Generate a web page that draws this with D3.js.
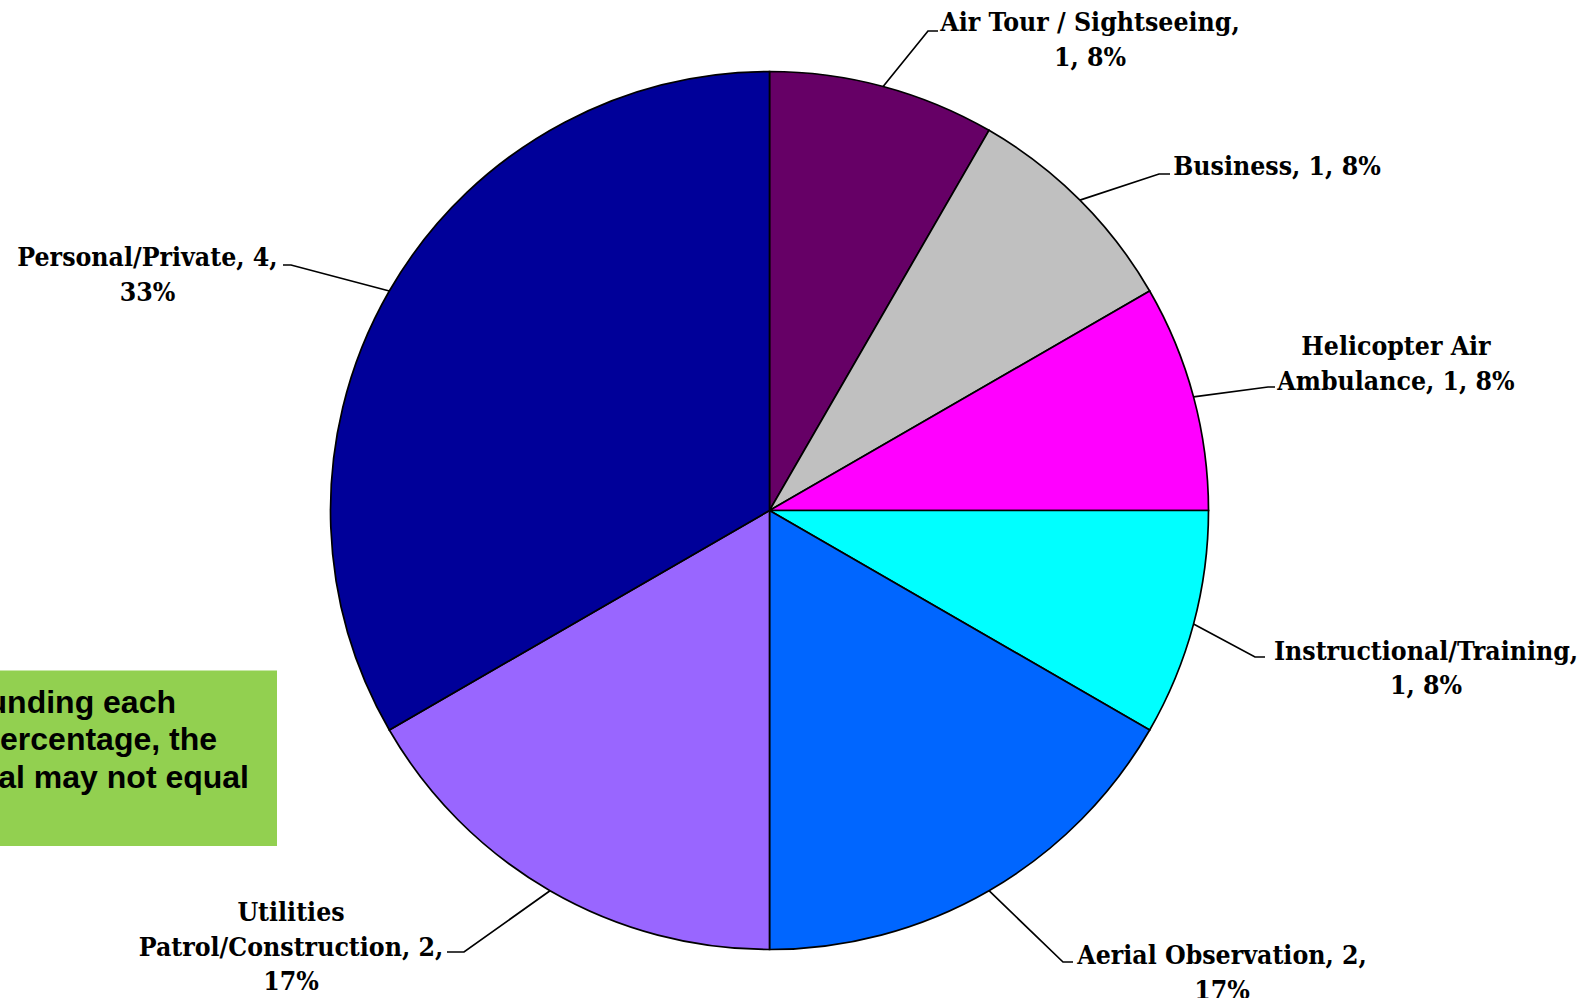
<!DOCTYPE html>
<html>
<head>
<meta charset="utf-8">
<script src="https://cdn.jsdelivr.net/npm/d3@7/dist/d3.min.js"></script>
<style>
  html, body { margin: 0; padding: 0; background: #fff; overflow: hidden; }
  .lbl { font-family: "DejaVu Serif Condensed", "DejaVu Serif", serif; font-stretch: condensed; font-weight: bold; font-size: 26.4px; fill: #000; }
  .note { font-family: "Liberation Sans", Arial, sans-serif; font-weight: bold; font-size: 32px; fill: #000; }
</style>
</head>
<body>
<div class="chart"></div>
<script>
// operation types, clockwise from 12 o'clock
var categories = ["Air Tour / Sightseeing", "Business", "Helicopter Air Ambulance", "Instructional/Training",
                  "Aerial Observation", "Utilities Patrol/Construction", "Personal/Private"];
var counts = [1, 1, 1, 1, 2, 2, 4];
var colors = ["#660066", "#C0C0C0", "#FF00FF", "#00FFFF", "#0066FF", "#9966FF", "#000099"];
// how many words go on each label line
var wordsPerLine = [[4, 2], [3], [2, 3], [1, 2], [3, 1], [1, 2, 1], [2, 1]];
var noteLines = ["Due to rounding each", "percentage, the", "total may not equal"];

var W = 1591, H = 998;
var cx = 769.5, cy = 510.5, R = 439;
var lineH = 34.5;

// label box centre / first baseline, leader elbow and end
var labelLayout = [
  {x: 1090, y: 31, elbow: [928, 31], end: [938, 31]},
  {x: 1277, y: 174.5, elbow: [1159, 174], end: [1170, 174]},
  {x: 1396, y: 355, elbow: [1268, 387], end: [1275, 387]},
  {x: 1426, y: 659.5, elbow: [1255, 657], end: [1265, 657]},
  {x: 1222, y: 964, elbow: [1063, 962], end: [1073, 962]},
  {x: 291, y: 921, elbow: [464, 952], end: [447, 952]},
  {x: 147.5, y: 266, elbow: [291, 265], end: [283, 265]}
];

var total = d3.sum(counts);
var data = categories.map(function (c, i) {
  return {name: c, value: counts[i], color: colors[i], pct: Math.round(counts[i] / total * 100)};
});

var svg = d3.select('.chart')
  .append('svg')
  .attr('width', W)
  .attr('height', H);

var pie = d3.pie().sort(null).value(function (d) { return d.value; });
var arc = d3.arc().innerRadius(0).outerRadius(R);
var arcs = pie(data);

var g = svg.append('g').attr('transform', 'translate(' + cx + ',' + cy + ')');

g.selectAll('path')
  .data(arcs)
  .enter()
  .append('path')
  .attr('d', arc)
  .style('fill', function (d) { return d.data.color; })
  .style('stroke', '#000')
  .style('stroke-width', 1.7);

// leader lines from the middle of each slice edge
svg.selectAll('polyline')
  .data(arcs)
  .enter()
  .append('polyline')
  .attr('points', function (d, i) {
    var a = (d.startAngle + d.endAngle) / 2;
    var p0 = [cx + R * Math.sin(a), cy - R * Math.cos(a)];
    var L = labelLayout[i];
    return [p0, L.elbow, L.end].map(function (p) { return p.join(','); }).join(' ');
  })
  .style('fill', 'none')
  .style('stroke', '#000')
  .style('stroke-width', 1.7);

function labelText(d, i) {
  var words = d.name.split(' ');
  words[words.length - 1] += ',';
  words.push(d.value + ',', d.pct + '%');
  var lines = [], k = 0;
  wordsPerLine[i].forEach(function (n) {
    lines.push(words.slice(k, k + n).join(' '));
    k += n;
  });
  return lines;
}

svg.selectAll('text.lbl')
  .data(arcs)
  .enter()
  .append('text')
  .attr('class', 'lbl')
  .attr('text-anchor', 'middle')
  .each(function (d, i) {
    var L = labelLayout[i];
    d3.select(this).selectAll('tspan')
      .data(labelText(d.data, i))
      .enter()
      .append('tspan')
      .attr('x', L.x)
      .attr('y', function (t, j) { return L.y + j * lineH; })
      .text(function (t) { return t; });
  });

// green note box, cut by the left edge of the picture
svg.append('rect')
  .attr('x', -200)
  .attr('y', 670.5)
  .attr('width', 477)
  .attr('height', 175.5)
  .style('fill', '#92D050');

var noteRight = [176, 217, 249];
svg.selectAll('text.note')
  .data(noteLines)
  .enter()
  .append('text')
  .attr('class', 'note')
  .attr('text-anchor', 'end')
  .attr('x', function (t, i) { return noteRight[i]; })
  .attr('y', function (t, i) { return 712.5 + i * 37.8; })
  .text(function (t) { return t; });
</script>
</body>
</html>
